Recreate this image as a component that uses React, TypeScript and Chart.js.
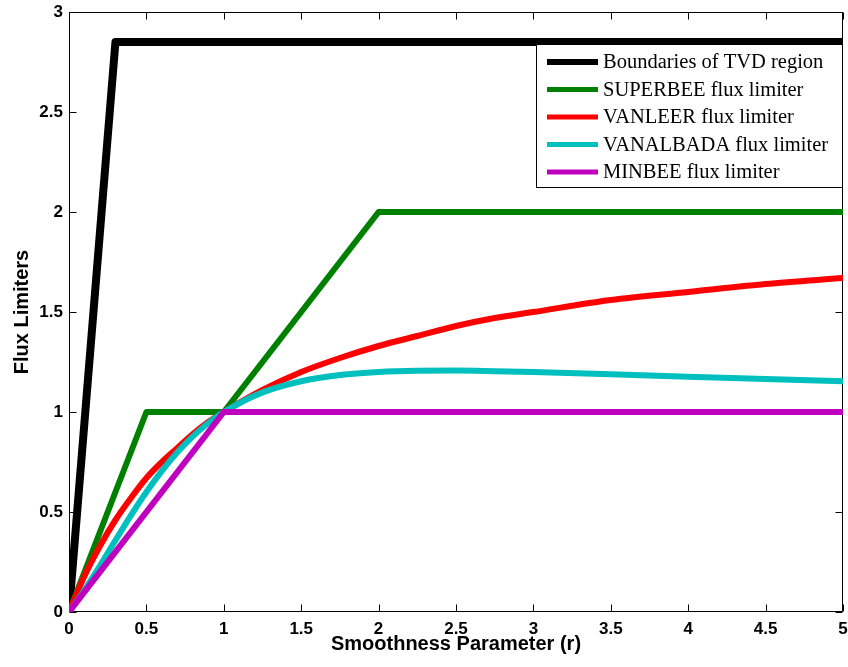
import React, { useEffect, useRef } from "react";
import { Chart, registerables } from "chart.js";

Chart.register(...registerables);

// ---- data ----
const tvdR = [0, 0.3, 5];
const tvdPhi = [0, 2.85, 2.85];

const superbeeR = [0, 0.5, 1, 2, 5];
const superbeePhi = [0, 1, 1, 2, 2];

const curveR = [0, 0.1, 0.2, 0.3, 0.4, 0.5, 0.6, 0.7, 0.8, 0.9, 1, 1.25, 1.5, 1.75, 2, 2.25, 2.5, 2.75, 3, 3.5, 4, 4.5, 5];
const vanleerPhi = [0, 0.18, 0.33, 0.46, 0.57, 0.67, 0.75, 0.82, 0.89, 0.95, 1, 1.11, 1.2, 1.27, 1.33, 1.38, 1.43, 1.47, 1.5, 1.56, 1.6, 1.64, 1.67];
const vanalbadaPhi = [0, 0.109, 0.231, 0.358, 0.483, 0.6, 0.706, 0.799, 0.878, 0.945, 1, 1.098, 1.154, 1.185, 1.2, 1.206, 1.207, 1.204, 1.2, 1.189, 1.176, 1.165, 1.154];

const minbeeR = [0, 1, 5];
const minbeePhi = [0, 1, 1];

const seriesLabels = [
  "Boundaries of TVD region",
  "SUPERBEE flux limiter",
  "VANLEER flux limiter",
  "VANALBADA flux limiter",
  "MINBEE flux limiter",
];
const seriesColors = ["#000000", "#008000", "#ff0000", "#00bfbf", "#bf00bf"];

const xTicks = [0, 0.5, 1, 1.5, 2, 2.5, 3, 3.5, 4, 4.5, 5];
const yTicks = [0, 0.5, 1, 1.5, 2, 2.5, 3];

const xTitle = "Smoothness Parameter (r)";
const yTitle = "Flux Limiters";

const toPts = (xs: number[], ys: number[]) => xs.map((x, i) => ({ x, y: ys[i] }));

const boxPlugin = {
  id: "matlabBox",
  beforeDatasetsDraw(chart: any) {
    const { ctx, chartArea: a, scales } = chart;
    ctx.save();
    ctx.strokeStyle = "#000";
    ctx.lineWidth = 1;
    ctx.beginPath();
    const L = Math.round(a.left) + 0.5;
    const R = Math.round(a.right) - 0.5;
    const T = Math.round(a.top) + 0.5;
    const B = Math.round(a.bottom) - 0.5;
    ctx.rect(L, T, R - L, B - T);
    const tl = 7;
    xTicks.forEach((v) => {
      const px = Math.round(scales.x.getPixelForValue(v)) + 0.5;
      ctx.moveTo(px, B);
      ctx.lineTo(px, B - tl);
      ctx.moveTo(px, T);
      ctx.lineTo(px, T + tl);
    });
    yTicks.forEach((v) => {
      const py = Math.round(scales.y.getPixelForValue(v)) + 0.5;
      ctx.moveTo(L, py);
      ctx.lineTo(L + tl, py);
      ctx.moveTo(R, py);
      ctx.lineTo(R - tl, py);
    });
    ctx.stroke();

    // axis titles
    ctx.fillStyle = "#000";
    ctx.font = "bold 20px Arial, 'Liberation Sans', sans-serif";
    ctx.textAlign = "center";
    ctx.textBaseline = "middle";
    ctx.fillText(xTitle, (a.left + a.right) / 2, 644);
    ctx.translate(22, (a.top + a.bottom) / 2);
    ctx.rotate(-Math.PI / 2);
    ctx.fillText(yTitle, 0, 0);
    ctx.restore();
  },
  afterDraw(chart: any) {
    const { ctx, chartArea: a } = chart;
    ctx.save();
    const bx = 536.5;
    const by = 44.5;
    const bw = Math.round(a.right) - 0.5 - bx;
    const bh = 143;
    ctx.fillStyle = "#fff";
    ctx.fillRect(bx, by, bw, bh);
    ctx.strokeStyle = "#000";
    ctx.lineWidth = 1;
    ctx.strokeRect(bx, by, bw, bh);
    ctx.font = "20.5px 'Times New Roman', 'Liberation Serif', serif";
    ctx.textAlign = "left";
    ctx.textBaseline = "middle";
    seriesLabels.forEach((lab, i) => {
      const yy = 62 + i * 27.5;
      ctx.strokeStyle = seriesColors[i];
      ctx.lineWidth = i === 0 ? 6 : 5;
      ctx.lineCap = "butt";
      ctx.beginPath();
      ctx.moveTo(547, yy);
      ctx.lineTo(598, yy);
      ctx.stroke();
      ctx.fillStyle = "#000";
      ctx.fillText(lab, 603, yy + 1);
    });
    ctx.restore();
  },
};

export default function App() {
  const ref = useRef<HTMLCanvasElement | null>(null);
  useEffect(() => {
    document.body.style.margin = "0";
    const canvas = ref.current;
    if (!canvas) return;
    const mk = (i: number, data: any[], width: number, order: number, smooth: boolean) => ({
      label: seriesLabels[i],
      data,
      borderColor: seriesColors[i],
      backgroundColor: seriesColors[i],
      borderWidth: width,
      pointRadius: 0,
      fill: false,
      order,
      borderJoinStyle: "round" as const,
      borderCapStyle: "round" as const,
      cubicInterpolationMode: smooth ? ("monotone" as const) : ("default" as const),
      tension: 0,
    });
    const chart = new Chart(canvas, {
      type: "line",
      data: {
        datasets: [
          mk(0, toPts(tvdR, tvdPhi), 8, 5, false),
          mk(1, toPts(superbeeR, superbeePhi), 6, 4, false),
          mk(2, toPts(curveR, vanleerPhi), 6, 3, true),
          mk(3, toPts(curveR, vanalbadaPhi), 6, 2, true),
          mk(4, toPts(minbeeR, minbeePhi), 6, 1, false),
        ],
      },
      options: {
        animation: false,
        responsive: false,
        devicePixelRatio: 1,
        layout: { padding: { top: 12, right: 5, left: 0, bottom: 0 } },
        plugins: { legend: { display: false }, tooltip: { enabled: false } },
        scales: {
          x: {
            type: "linear",
            min: 0,
            max: 5,
            grid: { display: false, drawTicks: false },
            border: { display: false },
            afterBuildTicks: (s: any) => {
              s.ticks = xTicks.map((v) => ({ value: v }));
            },
            ticks: {
              color: "#000",
              padding: 7,
              maxRotation: 0,
              autoSkip: false,
              font: { family: "Arial, 'Liberation Sans', sans-serif", size: 17, weight: "bold" },
              callback: (v: any) => String(v),
            },
            afterFit: (s: any) => {
              s.height = 55;
              s.paddingLeft = 0;
              s.paddingRight = 0;
            },
          },
          y: {
            type: "linear",
            min: 0,
            max: 3,
            grid: { display: false, drawTicks: false },
            border: { display: false },
            afterBuildTicks: (s: any) => {
              s.ticks = yTicks.map((v) => ({ value: v }));
            },
            ticks: {
              color: "#000",
              padding: 6,
              autoSkip: false,
              font: { family: "Arial, 'Liberation Sans', sans-serif", size: 17, weight: "bold" },
              callback: (v: any) => String(v),
            },
            afterFit: (s: any) => {
              s.width = 69;
              s.paddingTop = 0;
              s.paddingBottom = 0;
            },
          },
        },
      },
      plugins: [boxPlugin],
    });
    return () => chart.destroy();
  }, []);
  return (
    <div style={{ width: 848, height: 667, background: "#fff" }}>
      <canvas ref={ref} width={848} height={667} style={{ display: "block" }} />
    </div>
  );
}
